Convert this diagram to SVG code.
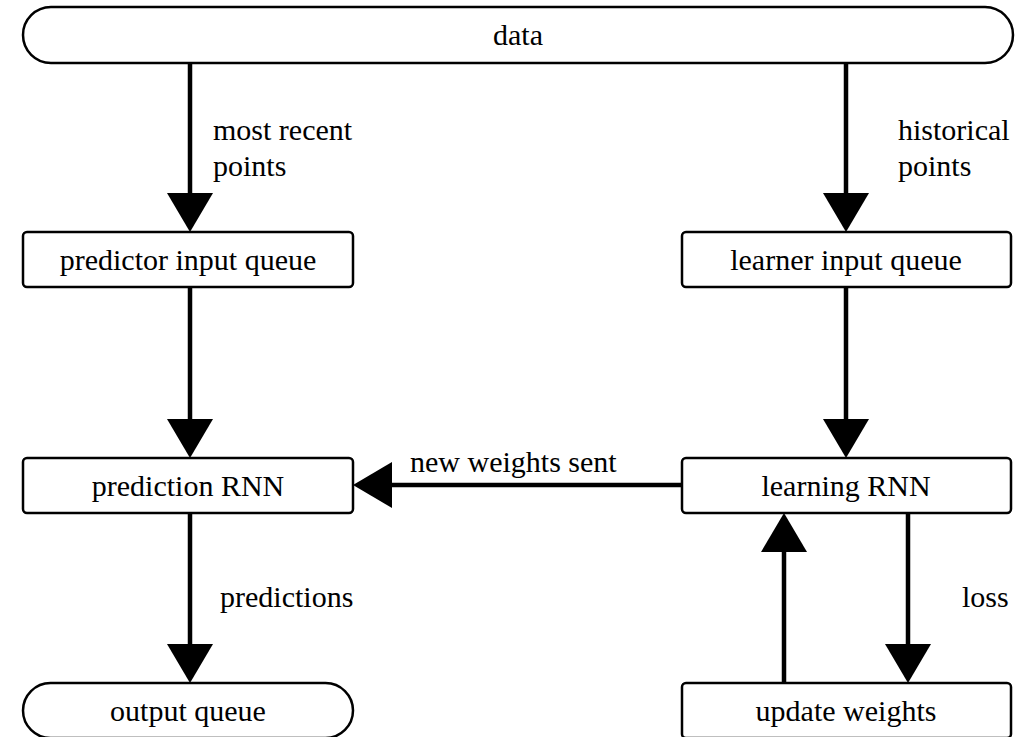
<svg xmlns="http://www.w3.org/2000/svg" width="1036" height="737" viewBox="0 0 1036 737">
<style>
.box{fill:#fff;stroke:#000;stroke-width:2.5}
.t{font-family:'Liberation Serif','Times New Roman',Times,serif;font-size:30px;fill:#000}
.c{text-anchor:middle}
.e{stroke:#000;stroke-width:4.5;fill:none;marker-end:url(#ah)}
</style>
<defs>
<marker id="ah" markerUnits="userSpaceOnUse" markerWidth="40" markerHeight="46" viewBox="0 0 40 46" refX="18" refY="23" orient="auto">
<path d="M0,0 L39,23 L0,46 Z" fill="#000"/>
</marker>
</defs>
<rect width="1036" height="737" fill="#fff"/>
<g id="connectors">
<path class="e" d="M190,63 V211"/>
<path class="e" d="M846,63 V211"/>
<path class="e" d="M190,288 V437"/>
<path class="e" d="M846,288 V437"/>
<path class="e" d="M682,485 H374"/>
<path class="e" d="M190,513 V662"/>
<path class="e" d="M908,513 V662"/>
<path class="e" d="M784,683 V534"/>
<text class="t" x="213" y="140" font-family="Liberation Serif, serif">most recent</text>
<text class="t" x="213" y="176" font-family="Liberation Serif, serif">points</text>
<text class="t" x="898" y="140" font-family="Liberation Serif, serif">historical</text>
<text class="t" x="898" y="176" font-family="Liberation Serif, serif">points</text>
<text class="t" x="410" y="472" font-family="Liberation Serif, serif">new weights sent</text>
<text class="t" x="220" y="607" font-family="Liberation Serif, serif">predictions</text>
<text class="t" x="962" y="607" font-family="Liberation Serif, serif">loss</text>
</g>
<g id="data"><rect class="box" x="23" y="7" width="990" height="56" rx="28"/><text class="t c" x="518" y="45" font-family="Liberation Serif, serif">data</text></g>
<g id="predictor-input-queue"><rect class="box" x="23" y="232" width="330" height="55" rx="4"/><text class="t c" x="188" y="270" font-family="Liberation Serif, serif">predictor input queue</text></g>
<g id="learner-input-queue"><rect class="box" x="682" y="232" width="329" height="55" rx="4"/><text class="t c" x="846" y="270" font-family="Liberation Serif, serif">learner input queue</text></g>
<g id="prediction-rnn"><rect class="box" x="23" y="458" width="330" height="55" rx="4"/><text class="t c" x="188" y="496" font-family="Liberation Serif, serif">prediction RNN</text></g>
<g id="learning-rnn"><rect class="box" x="682" y="458" width="329" height="55" rx="4"/><text class="t c" x="846" y="496" font-family="Liberation Serif, serif">learning RNN</text></g>
<g id="output-queue"><rect class="box" x="23" y="683" width="330" height="55" rx="27.5"/><text class="t c" x="188" y="721" font-family="Liberation Serif, serif">output queue</text></g>
<g id="update-weights"><rect class="box" x="682" y="683" width="329" height="55" rx="4"/><text class="t c" x="846" y="721" font-family="Liberation Serif, serif">update weights</text></g>
</svg>
